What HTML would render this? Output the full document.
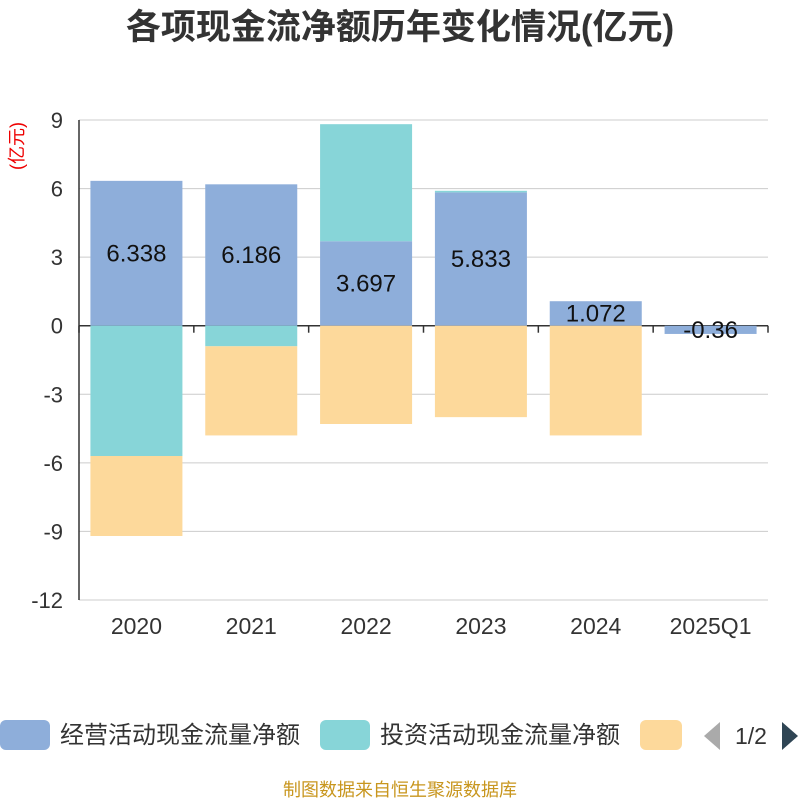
<!DOCTYPE html>
<html><head><meta charset="utf-8">
<style>
body{margin:0;width:800px;height:800px;background:#fff;overflow:hidden;font-family:"Liberation Sans","Noto Sans CJK SC",sans-serif;}
</style></head>
<body>
<svg id="chart" width="800" height="800" xmlns="http://www.w3.org/2000/svg" font-family="Liberation Sans, Noto Sans CJK SC, sans-serif">
<text x="400" y="39" text-anchor="middle" font-size="35" font-weight="bold" fill="#333">各项现金流净额历年变化情况(亿元)</text>
<text transform="translate(23,146) rotate(-90)" text-anchor="middle" font-size="18" fill="#e00">(亿元)</text>
<g id="grid"></g><g id="bars"></g><g id="axes"></g><g id="labels"></g>
<g>
<rect x="0" y="720" width="50" height="30" rx="6" fill="#8EAEDA"/>
<text x="60" y="743" font-size="24" fill="#333">经营活动现金流量净额</text>
<rect x="320" y="720" width="50" height="30" rx="6" fill="#87D5D8"/>
<text x="380" y="743" font-size="24" fill="#333">投资活动现金流量净额</text>
<rect x="640" y="720" width="42" height="30" rx="6" fill="#FDD99B"/>
<polygon points="720,722 720,750 704,736" fill="#aaa"/>
<text x="751" y="744" text-anchor="middle" font-size="23" fill="#333">1/2</text>
<polygon points="782,722 782,750 798,736" fill="#2f4554"/>
</g>
<text x="400" y="796" text-anchor="middle" font-size="18" fill="#c8961e">制图数据来自恒生聚源数据库</text>
</svg>
<script>
const categories=["2020","2021","2022","2023","2024","2025Q1"];
const operating=[6.338,6.186,3.697,5.833,1.072,-0.36];
const investing=[-5.7,-0.9,5.12,0.07,0,0];
const financing=[-3.5,-3.9,-4.3,-4.0,-4.8,0];
const opLabels=["6.338","6.186","3.697","5.833","1.072","-0.36"];
const yTicks=[9,6,3,0,-3,-6,-9,-12];
const NS="http://www.w3.org/2000/svg";
const x0=79,x1=768,yTop=120,yBot=600,yMax=9,yMin=-12;
const y=v=>yTop+(yMax-v)*(yBot-yTop)/(yMax-yMin);
const band=(x1-x0)/categories.length;
const xc=i=>x0+band*(i+0.5);
const bw=92;
function mk(tag,attrs,parent){const e=document.createElementNS(NS,tag);for(const k in attrs)e.setAttribute(k,attrs[k]);document.getElementById(parent).appendChild(e);return e;}
yTicks.forEach(t=>{
 const l=mk('line',{x1:x0,x2:x1,y1:y(t),y2:y(t),stroke:t===0?'#333':'#ccc','stroke-width':t===0?1.5:1},'grid');
 
 
 const tx=mk('text',{x:63,y:y(t)+8,'text-anchor':'end','font-size':22,fill:'#333'},'axes');
 tx.textContent=t;
 
 
});
const series=[[operating,'#8EAEDA','operating'],[investing,'#87D5D8','investing'],[financing,'#FDD99B','financing']];
categories.forEach((c,i)=>{
 let pos=0,neg=0;
 series.forEach(([arr,col,nm])=>{
  const v=arr[i];if(!v)return;
  let a,b;
  if(v>=0){a=pos;b=pos+v;pos=b;}else{a=neg;b=neg+v;neg=b;}
  const r=mk('rect',{x:xc(i)-bw/2,y:Math.min(y(a),y(b)),width:bw,height:Math.abs(y(a)-y(b)),fill:col},'bars');
  
  
  if(nm==='operating'){
   const t=mk('text',{x:xc(i),y:(y(a)+y(b))/2+8,'text-anchor':'middle','font-size':24,fill:'#111'},'labels');
   t.textContent=opLabels[i];
   
   
  }
 });
 const tx=mk('text',{x:xc(i),y:634,'text-anchor':'middle','font-size':23,fill:'#333'},'axes');
 tx.textContent=c;
 
 
});
for(let i=0;i<=categories.length;i++){
 const tk=mk('line',{x1:x0+band*i,x2:x0+band*i,y1:y(0),y2:y(0)+7,stroke:'#333','stroke-width':1.5},'axes');
 
 
}
const ax=mk('line',{x1:x0,x2:x0,y1:yTop,y2:yBot,stroke:'#333','stroke-width':1.5},'axes');


</script>
</body></html>
